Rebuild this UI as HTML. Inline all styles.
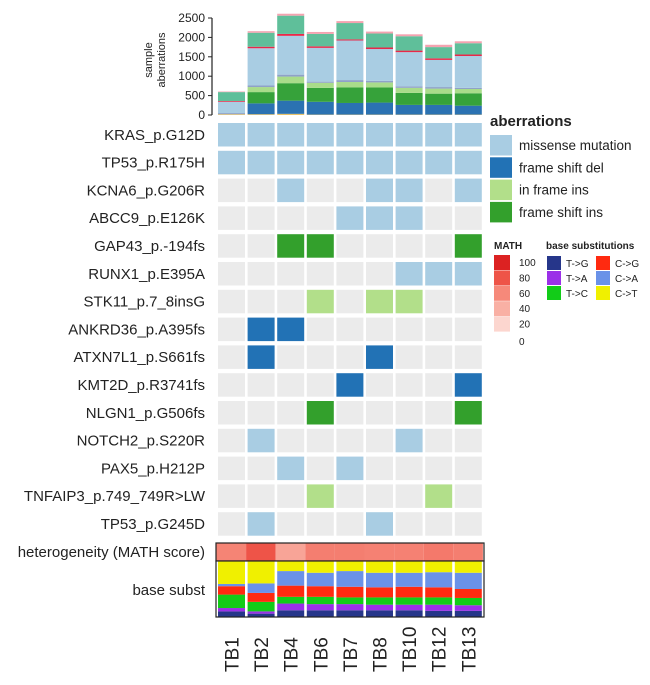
<!DOCTYPE html>
<html><head><meta charset="utf-8">
<style>
body{margin:0;background:#fff;width:650px;height:680px;overflow:hidden;font-family:"Liberation Sans",Arial,sans-serif}
svg text{font-family:"Liberation Sans",Arial,sans-serif;fill:#222}
</style></head>
<body>
<svg id="chart" width="650" height="680" xmlns="http://www.w3.org/2000/svg">
<g id="bars"></g>
<g id="yaxis"></g>
<g id="grid"></g>
<g id="math"></g>
<g id="subst"></g>
<g id="xlabels"></g>
<g id="legend"></g>
</svg>
<script>
const samples = ["TB1","TB2","TB4","TB6","TB7","TB8","TB10","TB12","TB13"];
const segNames = ["other-small","frame-shift-del","frame-shift-ins","in-frame-ins","other-gray","missense","red-line","teal","pink"];
const segColors = ["#e8c36a","#2b72b2","#36a23a","#a9dc8a","#8fa2c8","#a9cde3","#e8284a","#5fbf9a","#f4a3b0"];
const segValues = [
 [20,20,30,10,10,10,10,10,10],
 [0,280,340,330,300,310,250,250,230],
 [0,290,450,360,400,390,310,290,320],
 [0,130,170,130,140,130,130,130,110],
 [30,40,50,30,50,40,40,40,30],
 [290,960,1000,870,1020,820,880,700,820],
 [20,40,50,40,30,40,40,40,40],
 [230,360,470,320,420,360,370,290,290],
 [15,40,50,50,50,50,50,60,50]
];
const yTicks = [0,500,1000,1500,2000,2500];
const genes = ["KRAS_p.G12D","TP53_p.R175H","KCNA6_p.G206R","ABCC9_p.E126K","GAP43_p.-194fs","RUNX1_p.E395A","STK11_p.7_8insG","ANKRD36_p.A395fs","ATXN7L1_p.S661fs","KMT2D_p.R3741fs","NLGN1_p.G506fs","NOTCH2_p.S220R","PAX5_p.H212P","TNFAIP3_p.749_749R>LW","TP53_p.G245D"];
// 0 none,1 missense,2 fs del,3 inframe ins,4 fs ins
const mutations = [
 [1,1,1,1,1,1,1,1,1],
 [1,1,1,1,1,1,1,1,1],
 [0,0,1,0,0,1,1,0,1],
 [0,0,0,0,1,1,1,0,0],
 [0,0,4,4,0,0,0,0,4],
 [0,0,0,0,0,0,1,1,1],
 [0,0,0,3,0,3,3,0,0],
 [0,2,2,0,0,0,0,0,0],
 [0,2,0,0,0,2,0,0,0],
 [0,0,0,0,2,0,0,0,2],
 [0,0,0,4,0,0,0,0,4],
 [0,1,0,0,0,0,1,0,0],
 [0,0,1,0,1,0,0,0,0],
 [0,0,0,3,0,0,0,3,0],
 [0,1,0,0,0,1,0,0,0]
];
const mutColors = ["#ebebeb","#a9cde3","#2272b5","#b2df8a","#33a02c"];
const mathScores = [62,80,46,64,64,63,63,66,64];
const substNames = ["T->G","T->A","T->C","C->G","C->A","C->T"];
const substColors = ["#26368a","#9b30e8","#12cc18","#ff2a10","#6a92e8","#f0f000"];
const substFrac = [
 [0.10,0.06,0.24,0.15,0.04,0.41],
 [0.06,0.04,0.17,0.16,0.17,0.40],
 [0.12,0.12,0.12,0.20,0.26,0.18],
 [0.12,0.11,0.13,0.19,0.24,0.21],
 [0.12,0.11,0.12,0.19,0.28,0.18],
 [0.12,0.10,0.13,0.18,0.26,0.21],
 [0.12,0.10,0.13,0.19,0.25,0.21],
 [0.11,0.11,0.13,0.18,0.27,0.20],
 [0.11,0.10,0.13,0.16,0.29,0.21]
];
const NS="http://www.w3.org/2000/svg";
function mk(tag,attrs,parent){const e=document.createElementNS(NS,tag);for(const k in attrs)e.setAttribute(k,attrs[k]);parent.appendChild(e);return e;}
const colX=i=>218+i*29.6, colW=27;
const yScale=v=>115-v*(97/2500);
const rowY=r=>123+r*27.8, rowH=23.5;
const $=id=>document.getElementById(id);

// bars
samples.forEach((s,i)=>{let acc=0;segValues.forEach((vals,k)=>{const v=vals[i];if(!v)return;
 const r=mk('rect',{x:colX(i),y:yScale(acc+v),width:colW,height:yScale(acc)-yScale(acc+v),fill:segColors[k]},$('bars'));
 
 
 acc+=v;});});
// y axis
mk('line',{x1:212,x2:212,y1:yScale(0),y2:yScale(2500),stroke:'#222','stroke-width':1.2},$('yaxis'));
yTicks.forEach(t=>{mk('line',{x1:208,x2:212,y1:yScale(t),y2:yScale(t),stroke:'#222'},$('yaxis'));
 const tx=mk('text',{x:205,y:yScale(t)+4,'text-anchor':'end','font-size':12},$('yaxis'));tx.textContent=t;
 
 });
const yt=mk('text',{transform:'translate(152,60) rotate(-90)','text-anchor':'middle','font-size':11},$('yaxis'));


yt.innerHTML='<tspan x="0" dy="0">sample</tspan><tspan x="0" dy="13">aberrations</tspan>';
// grid
genes.forEach((g,r)=>{const t=mk('text',{x:205,y:rowY(r)+rowH/2+5,'text-anchor':'end','font-size':15},$('grid'));t.textContent=g;
 
 
 mutations[r].forEach((m,i)=>{const c=mk('rect',{x:colX(i),y:rowY(r),width:colW,height:rowH,fill:mutColors[m]},$('grid'));
  
  });});
// math
const mlab=mk('text',{x:205,y:557,'text-anchor':'end','font-size':15},$('math'));mlab.textContent='heterogeneity (MATH score)';


const stops=[[255,255,255],[252,214,207],[249,176,164],[246,137,122],[238,84,72],[220,34,34]];
function mathColor(v){const p=Math.max(0,Math.min(100,v))/20;const i=Math.min(4,Math.floor(p)),t=p-i;const a=stops[i],b=stops[i+1];
 return 'rgb('+a.map((x,k)=>Math.round(x+(b[k]-x)*t)).join(',')+')';}
mathScores.forEach((v,i)=>{const r=mk('rect',{x:colX(i)-1.5,y:543,width:29.6,height:18,fill:mathColor(v)},$('math'));
 
 });
mk('rect',{x:216,y:543,width:268,height:18,fill:'none',stroke:'#222','stroke-width':1.2},$('math'));
// subst
const slab=mk('text',{x:205,y:595,'text-anchor':'end','font-size':15},$('subst'));slab.textContent='base subst';


const sTop=561,sH=56;
mk('rect',{x:216,y:sTop,width:268,height:sH,fill:'#fff'},$('subst'));
samples.forEach((s,i)=>{let acc=0;substFrac[i].forEach((f,k)=>{const h=f*sH;
 const r=mk('rect',{x:colX(i),y:sTop+sH-(acc+f)*sH,width:colW,height:h,fill:substColors[k]},$('subst'));
 
 acc+=f;});});
mk('rect',{x:216,y:sTop,width:268,height:sH,fill:'none',stroke:'#222','stroke-width':1.2},$('subst'));
// x labels
samples.forEach((s,i)=>{const t=mk('text',{transform:`translate(${colX(i)+colW/2+7},672) rotate(-90)`,'font-size':19},$('xlabels'));t.textContent=s;
 
 });
// legend
const L=$('legend');
let t=mk('text',{x:490,y:126,'font-size':15,'font-weight':'bold'},L);t.textContent='aberrations';


const abNames=["missense mutation","frame shift del","in frame ins","frame shift ins"];
abNames.forEach((n,k)=>{const y=135+k*22.3;
 const r=mk('rect',{x:490,y:y,width:22,height:20.5,fill:mutColors[k+1]},L);
 
 
 const tx=mk('text',{x:519,y:y+15,'font-size':13.5},L);tx.textContent=n;
 
 });
t=mk('text',{x:494,y:249,'font-size':10,'font-weight':'bold'},L);t.textContent='MATH';


const mathTicks=[100,80,60,40,20,0];
mathTicks.forEach((v,k)=>{const y=255+k*15.4;
 if(v>0){const r=mk('rect',{x:494,y:y,width:16,height:15,fill:mathColor(v)},L);
 
 }
 const tx=mk('text',{x:519,y:y+11+(v==0?2:0),'font-size':10},L);tx.textContent=v;
 
 });
t=mk('text',{x:546,y:249,'font-size':10,'font-weight':'bold'},L);t.textContent='base substitutions';


substNames.forEach((n,k)=>{const col=Math.floor(k/3),row=k%3;const x=547+col*49,y=256+row*15;
 const r=mk('rect',{x:x,y:y,width:14,height:14,fill:substColors[k]},L);
 
 
 const tx=mk('text',{x:x+19,y:y+11,'font-size':10},L);tx.textContent=n;
 
 });
</script>
</body></html>
